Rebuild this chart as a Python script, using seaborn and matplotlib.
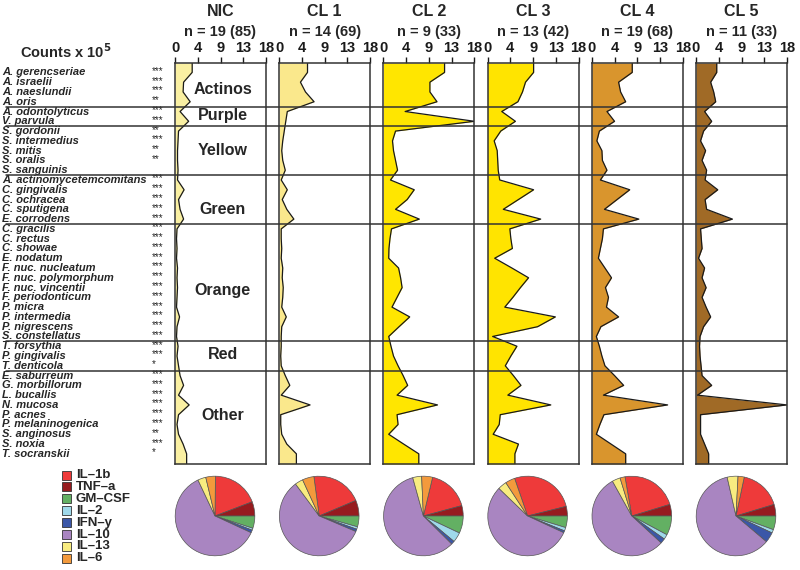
import matplotlib.pyplot as plt
import seaborn as sns
import numpy as np
from matplotlib.lines import Line2D
from matplotlib.patches import Rectangle
from matplotlib.transforms import blended_transform_factory

sns.set_theme(style="white")
plt.rcParams["font.family"] = ["Liberation Sans", "DejaVu Sans"]

# ---- data ----
species = [
    "A. gerencseriae", "A. israelii", "A. naeslundii", "A. oris",
    "A. odontolyticus", "V. parvula",
    "S. gordonii", "S. intermedius", "S. mitis", "S. oralis", "S. sanguinis",
    "A. actinomycetemcomitans", "C. gingivalis", "C. ochracea", "C. sputigena", "E. corrodens",
    "C. gracilis", "C. rectus", "C. showae", "E. nodatum", "F. nuc. nucleatum",
    "F. nuc. polymorphum", "F. nuc. vincentii", "F. periodonticum", "P. micra",
    "P. intermedia", "P. nigrescens", "S. constellatus",
    "T. forsythia", "P. gingivalis", "T. denticola",
    "E. saburreum", "G. morbillorum", "L. bucallis", "N. mucosa", "P. acnes",
    "P. melaninogenica", "S. anginosus", "S. noxia", "T. socranskii",
]
stars = [
    "***", "***", "***", "**", "***", "***",
    "**", "***", "**", "**", "",
    "***", "***", "***", "***", "***",
    "***", "***", "***", "***", "***", "***", "***", "***", "***", "***", "***", "***",
    "***", "***", "*",
    "***", "***", "***", "***", "***", "***", "**", "***", "*",
]
groups = ["Actinos", "Purple", "Yellow", "Green", "Orange", "Red", "Other"]
group_label_pos = [1.7, 4.4, 8.0, 14.0, 22.3, 28.8, 35.1]
group_edges = [3.5, 5.5, 10.5, 15.5, 27.5, 30.5]

panel_names = ["NIC", "CL 1", "CL 2", "CL 3", "CL 4", "CL 5"]
panel_n = ["n = 19 (85)", "n = 14 (69)", "n = 9 (33)", "n = 13 (42)", "n = 19 (68)", "n = 11 (33)"]
panel_colors = ["#FAF0A2", "#FAE88C", "#FFE600", "#FFE400", "#D9952D", "#A06A26"]

nic = [3.4, 1.7, 1.6, 3.0, 1.0, 2.7, 0.7, 0.6, 0.5, 0.5,
       0.6, 0.5, 1.8, 0.7, 1.0, 1.7, 0.4, 0.3, 0.4, 0.3,
       0.5, 0.4, 0.5, 0.4, 0.3, 0.9, 0.4, 0.3, 0.6, 0.4,
       0.7, 1.0, 1.7, 0.7, 2.8, 0.7, 0.4, 0.7, 1.6, 2.3]
cl1 = [5.6, 4.2, 5.2, 6.9, 1.6, 1.3, 1.0, 0.7, 0.5, 0.7,
       1.2, 0.4, 1.6, 0.6, 1.5, 2.9, 0.4, 0.4, 0.5, 0.4,
       0.7, 0.6, 0.8, 0.7, 0.5, 1.4, 0.5, 0.4, 0.4, 0.3,
       0.4, 1.2, 2.1, 0.4, 6.1, 0.3, 0.3, 0.5, 1.5, 3.4]
cl2 = [12.1, 9.2, 9.2, 10.6, 4.3, 18.0, 2.4, 1.8, 2.0, 2.4,
       2.8, 1.4, 6.1, 4.7, 2.4, 7.1, 1.6, 1.3, 1.1, 1.05,
       3.0, 3.4, 3.7, 2.7, 1.7, 5.2, 3.1, 1.05, 1.5, 2.0,
       2.9, 3.9, 4.8, 2.7, 10.7, 2.7, 2.9, 1.05, 4.0, 7.0]
cl3 = [9.1, 7.5, 6.9, 6.0, 2.8, 5.5, 2.6, 1.3, 1.9, 2.0,
       2.1, 2.4, 9.1, 6.1, 3.1, 10.5, 4.4, 4.6, 4.9, 1.4,
       4.8, 8.1, 6.5, 5.0, 3.4, 13.4, 9.9, 1.0, 5.8, 4.6,
       3.5, 5.1, 6.6, 4.0, 12.5, 2.5, 2.3, 1.1, 6.1, 5.4]
cl4 = [8.0, 5.3, 5.7, 6.7, 3.0, 4.5, 1.5, 1.0, 2.0, 2.1,
       3.0, 1.7, 7.5, 5.0, 2.5, 9.3, 2.3, 2.1, 1.7, 1.3,
       2.6, 3.9, 2.7, 3.3, 2.9, 5.3, 1.8, 0.9, 1.5, 2.0,
       2.6, 4.5, 6.3, 2.3, 15.0, 2.4, 1.6, 0.9, 3.8, 6.7]
cl5 = [4.1, 2.9, 3.5, 3.9, 1.7, 3.1, 1.5, 0.9, 1.9, 1.2,
       2.1, 1.8, 4.3, 1.8, 2.1, 7.2, 0.9, 1.05, 1.2, 0.5,
       1.7, 1.2, 2.0, 1.2, 2.0, 2.9, 1.5, 0.8, 0.7, 0.8,
       1.0, 1.2, 3.1, 0.3, 18.0, 0.9, 0.9, 0.9, 1.7, 2.5]
counts = [nic, cl1, cl2, cl3, cl4, cl5]

tick_vals = [0, 4.5, 9, 13.5, 18]
tick_labels = ["0", "4", "9", "13", "18"]

cytokines = ["IL–1b", "TNF–a", "GM–CSF", "IL–2", "IFN–y", "IL–10", "IL–13", "IL–6"]
cyto_colors = ["#EE3A3A", "#961B1F", "#63B063", "#9FD9EA", "#3B57A8", "#A985C1", "#F8EC80", "#F39A3C"]
pie_nic = [19.0, 5.8, 5.0, 0.8, 1.1, 61.0, 3.3, 3.9]
pie_cl1 = [20.8, 6.4, 4.4, 1.0, 1.0, 58.6, 3.3, 4.7]
pie_cl2 = [17.0, 4.2, 7.0, 4.0, 1.4, 58.0, 3.6, 4.4]
pie_cl3 = [26.4, 3.9, 4.7, 1.4, 0.8, 55.3, 3.6, 3.9]
pie_cl4 = [23.0, 4.7, 7.8, 2.0, 2.0, 55.0, 3.3, 2.0]
pie_cl5 = [17.0, 4.7, 5.6, 1.4, 4.2, 60.3, 4.4, 2.5]
pies = [pie_nic, pie_cl1, pie_cl2, pie_cl3, pie_cl4, pie_cl5]

# ---- layout (pixels) ----
W, H = 800, 570
Y_TOP, Y_BOT = -0.96, 40.04


def fbox(x0, y0, w, h):
    return [x0 / W, 1 - (y0 + h) / H, w / W, h / H]


fig = plt.figure(figsize=(W / 100, H / 100), dpi=100)
rows = np.arange(len(species))
axes = []
for i, (vals, col) in enumerate(zip(counts, panel_colors)):
    left = 175 + 104.2 * i
    ax = fig.add_axes(fbox(left, 63, 91, 401))
    ys = np.concatenate([[Y_TOP], rows, [Y_BOT]])
    xs = np.concatenate([[vals[0]], vals, [vals[-1]]])
    ax.fill_betweenx(ys, 0, xs, color=col, lw=0)
    sns.lineplot(x=xs, y=ys, orient="y", sort=False, estimator=None,
                 color="#1a1a1a", lw=0.9, ax=ax)
    ax.set_xlim(0, 18)
    ax.set_ylim(Y_BOT, Y_TOP)
    ax.set_xlabel("")
    ax.set_ylabel("")
    ax.set_yticks([])
    ax.xaxis.tick_top()
    ax.set_xticks(tick_vals)
    ax.set_xticklabels(tick_labels, fontsize=10.5, fontweight="bold")
    ax.tick_params(axis="x", top=True, bottom=False, direction="out",
                   length=4, width=1, pad=2, colors="#1a1a1a")
    for sp in ax.spines.values():
        sp.set_color("#333333")
        sp.set_linewidth(1.1)
    cx = (left + 45.5) / W
    fig.text(cx, 1 - 12 / H, panel_names[i], ha="center", va="center",
             fontsize=11.5, fontweight="bold")
    fig.text(cx, 1 - 32 / H, panel_n[i], ha="center", va="center",
             fontsize=10.5, fontweight="bold")
    axes.append(ax)

for g, pos in zip(groups, group_label_pos):
    axes[0].text(9.4, pos, g, ha="center", va="center", fontsize=11.5, fontweight="bold")

trans = blended_transform_factory(fig.transFigure, axes[0].transData)
for b in group_edges:
    fig.add_artist(Line2D([6 / W, 787 / W], [b, b], transform=trans,
                          color="#333333", lw=1.1, zorder=5))

for r, (name, st) in enumerate(zip(species, stars)):
    fig.text(2 / W, r, name, transform=trans, ha="left", va="center",
             fontsize=8, fontstyle="italic", fontweight="bold")
    if st:
        fig.text(152 / W, r - 0.15, st, transform=trans, ha="left", va="center",
                 fontsize=7)

fig.text(20 / W, 1 - 52 / H, r"Counts x 10$^\mathbf{5}$", ha="left", va="center",
         fontsize=10.5, fontweight="bold")

# legend
for k, (lab, col) in enumerate(zip(cytokines, cyto_colors)):
    cy = 475 + 11.9 * k
    fig.add_artist(Rectangle((62 / W, 1 - (cy + 4.5) / H), 9 / W, 9 / H,
                             transform=fig.transFigure, facecolor=col,
                             edgecolor="#333333", lw=0.6))
    fig.text(76 / W, 1 - cy / H, lab, ha="left", va="center",
             fontsize=9.5, fontweight="bold")

# pies
for i, vals in enumerate(pies):
    cx = 215 + 104.2 * i
    pax = fig.add_axes(fbox(cx - 41, 516 - 41, 82, 82))
    start = (vals[0] + vals[1]) / sum(vals) * 360
    pax.pie(vals, colors=cyto_colors, startangle=start, counterclock=False,
            wedgeprops=dict(edgecolor="#555555", linewidth=0.5))
    pax.set_xlim(-1.03, 1.03)
    pax.set_ylim(-1.03, 1.03)
    pax.set_axis_off()

fig.savefig("out.png", dpi=100)
